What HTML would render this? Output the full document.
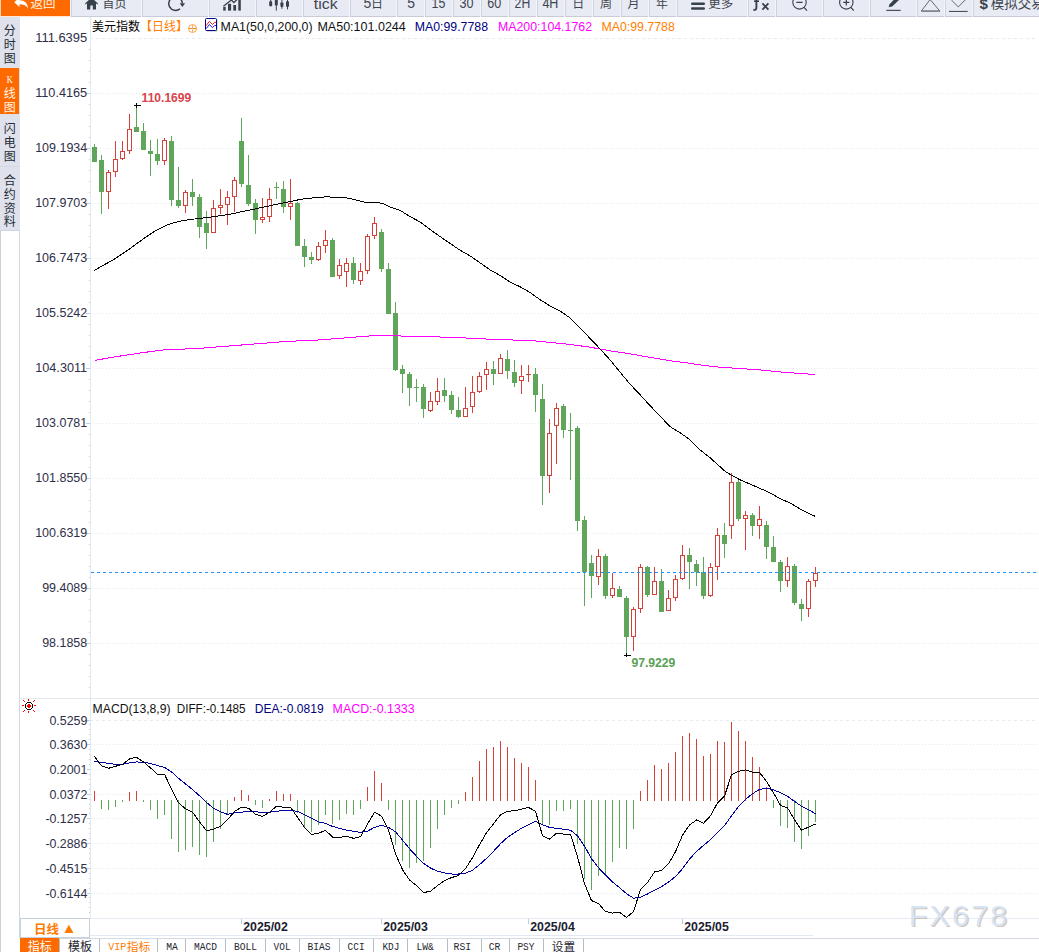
<!DOCTYPE html>
<html><head><meta charset="utf-8"><title>chart</title>
<style>html,body{margin:0;padding:0;background:#fff;}body{width:1039px;height:952px;overflow:hidden;font-family:"Liberation Sans",sans-serif;}svg{display:block}</style>
</head><body>
<svg width="1039" height="952" viewBox="0 0 1039 952">
<rect x="0" y="0" width="1039" height="952" fill="#fff"/>
<rect x="0" y="0" width="1039" height="16" fill="#e9ebf4"/>
<rect x="0" y="16" width="1039" height="1" fill="#c9ccd7"/>
<rect x="0" y="0" width="1" height="16" fill="#ffd4b0"/>
<rect x="1" y="0" width="69" height="16" fill="#ff6a00"/>
<rect x="0" y="16" width="70" height="1" fill="#ffe6d2"/>
<rect x="70" y="0" width="1" height="17" fill="#f3f5f9"/>
<rect x="71" y="0" width="1" height="16" fill="#cfd3de"/>
<rect x="141" y="0" width="1" height="17" fill="#f3f5f9"/>
<rect x="142" y="0" width="1" height="16" fill="#cfd3de"/>
<rect x="208" y="0" width="1" height="17" fill="#f3f5f9"/>
<rect x="209" y="0" width="1" height="16" fill="#cfd3de"/>
<rect x="255" y="0" width="1" height="17" fill="#f3f5f9"/>
<rect x="256" y="0" width="1" height="16" fill="#cfd3de"/>
<rect x="302" y="0" width="1" height="17" fill="#f3f5f9"/>
<rect x="303" y="0" width="1" height="16" fill="#cfd3de"/>
<rect x="349" y="0" width="1" height="17" fill="#f3f5f9"/>
<rect x="350" y="0" width="1" height="16" fill="#cfd3de"/>
<rect x="396" y="0" width="1" height="17" fill="#f3f5f9"/>
<rect x="397" y="0" width="1" height="16" fill="#cfd3de"/>
<rect x="424" y="0" width="1" height="17" fill="#f3f5f9"/>
<rect x="425" y="0" width="1" height="16" fill="#cfd3de"/>
<rect x="452" y="0" width="1" height="17" fill="#f3f5f9"/>
<rect x="453" y="0" width="1" height="16" fill="#cfd3de"/>
<rect x="480" y="0" width="1" height="17" fill="#f3f5f9"/>
<rect x="481" y="0" width="1" height="16" fill="#cfd3de"/>
<rect x="508" y="0" width="1" height="17" fill="#f3f5f9"/>
<rect x="509" y="0" width="1" height="16" fill="#cfd3de"/>
<rect x="536" y="0" width="1" height="17" fill="#f3f5f9"/>
<rect x="537" y="0" width="1" height="16" fill="#cfd3de"/>
<rect x="564" y="0" width="1" height="17" fill="#f3f5f9"/>
<rect x="565" y="0" width="1" height="16" fill="#cfd3de"/>
<rect x="592" y="0" width="1" height="17" fill="#f3f5f9"/>
<rect x="593" y="0" width="1" height="16" fill="#cfd3de"/>
<rect x="620" y="0" width="1" height="17" fill="#f3f5f9"/>
<rect x="621" y="0" width="1" height="16" fill="#cfd3de"/>
<rect x="648" y="0" width="1" height="17" fill="#f3f5f9"/>
<rect x="649" y="0" width="1" height="16" fill="#cfd3de"/>
<rect x="676" y="0" width="1" height="17" fill="#f3f5f9"/>
<rect x="677" y="0" width="1" height="16" fill="#cfd3de"/>
<rect x="747" y="0" width="1" height="17" fill="#f3f5f9"/>
<rect x="748" y="0" width="1" height="16" fill="#cfd3de"/>
<rect x="775" y="0" width="1" height="17" fill="#f3f5f9"/>
<rect x="776" y="0" width="1" height="16" fill="#cfd3de"/>
<rect x="822" y="0" width="1" height="17" fill="#f3f5f9"/>
<rect x="823" y="0" width="1" height="16" fill="#cfd3de"/>
<rect x="869" y="0" width="1" height="17" fill="#f3f5f9"/>
<rect x="870" y="0" width="1" height="16" fill="#cfd3de"/>
<rect x="916" y="0" width="1" height="17" fill="#f3f5f9"/>
<rect x="917" y="0" width="1" height="16" fill="#cfd3de"/>
<rect x="944" y="0" width="1" height="17" fill="#f3f5f9"/>
<rect x="945" y="0" width="1" height="16" fill="#cfd3de"/>
<rect x="972" y="0" width="1" height="17" fill="#f3f5f9"/>
<rect x="973" y="0" width="1" height="16" fill="#cfd3de"/>
<path d="M14.2 2.2 L19.5 -2.5 L19.5 0.3 C24.5 0.3 27.8 3 28 8.4 C26.3 5.2 23.6 4.2 19.5 4.2 L19.5 7 Z" fill="#fff"/>
<text x="30.5" y="7.9" font-family="'Liberation Sans', 'Noto Sans CJK SC', sans-serif" font-size="12.5" fill="#fff3e0">返回</text>
<path d="M85 3.6 L91.5 -2.4 L98 3.6 L97.3 4.4 L96 3.2 L96 9.6 L92.8 9.6 L92.8 5.4 L90.3 5.4 L90.3 9.6 L87 9.6 L87 3.2 L85.7 4.4 Z" fill="#37414b"/>
<text x="102.5" y="7.8" font-family="'Liberation Sans', 'Noto Sans CJK SC', sans-serif" font-size="12" fill="#3d454f">首页</text>
<path d="M180 8.7 A6.75 6.75 0 1 1 182.3 3.3" fill="none" stroke="#37414b" stroke-width="1.5"/>
<path d="M179.7 3.2 L185.1 3.2 L182.4 7 Z" fill="#37414b"/>
<rect x="223.2" y="6.9" width="2.5" height="3.6999999999999993" fill="#37414b"/>
<rect x="228" y="3.8" width="3.1" height="6.8" fill="#37414b"/>
<rect x="233.3" y="5" width="2.8" height="5.6" fill="#37414b"/>
<rect x="238.3" y="0" width="2.5" height="10.6" fill="#37414b"/>
<path d="M223.4 6.2 L231.4 0 L233.9 2.5 L237.6 -1" fill="none" stroke="#37414b" stroke-width="1.3"/>
<rect x="269.2" y="1.2" width="3" height="5.0" rx="0.8" fill="#37414b"/>
<rect x="270.2" y="-1" width="1" height="7.2" fill="#37414b"/>
<rect x="274.8" y="-1" width="3" height="6.6" rx="0.8" fill="#37414b"/>
<rect x="275.8" y="-1" width="1" height="11.6" fill="#37414b"/>
<rect x="280.4" y="2.5" width="3" height="4.4" rx="0.8" fill="#37414b"/>
<rect x="281.4" y="-1" width="1" height="9.8" fill="#37414b"/>
<rect x="286.0" y="1.2" width="3" height="5.7" rx="0.8" fill="#37414b"/>
<rect x="287.0" y="-1" width="1" height="10.4" fill="#37414b"/>
<text x="313.8" y="8.7" font-family="'Liberation Sans', sans-serif" font-size="14" fill="#3d454f" textLength="23.8" lengthAdjust="spacingAndGlyphs">tick</text>
<text x="363.6" y="7.8" font-family="'Liberation Sans', sans-serif" font-size="14" fill="#3d454f">5</text>
<text x="371" y="7.8" font-family="'Liberation Sans', 'Noto Sans CJK SC', sans-serif" font-size="12" fill="#3d454f">日</text>
<text x="407.3" y="7.8" font-family="'Liberation Sans', sans-serif" font-size="14" fill="#3d454f">5</text>
<text x="431.6" y="7.8" font-family="'Liberation Sans', sans-serif" font-size="14" fill="#3d454f" textLength="13.8" lengthAdjust="spacingAndGlyphs">15</text>
<text x="459.6" y="7.8" font-family="'Liberation Sans', sans-serif" font-size="14" fill="#3d454f" textLength="14" lengthAdjust="spacingAndGlyphs">30</text>
<text x="487.2" y="7.8" font-family="'Liberation Sans', sans-serif" font-size="14" fill="#3d454f" textLength="14" lengthAdjust="spacingAndGlyphs">60</text>
<text x="514.6" y="7.8" font-family="'Liberation Sans', sans-serif" font-size="14" fill="#3d454f" textLength="15.6" lengthAdjust="spacingAndGlyphs">2H</text>
<text x="542.4" y="7.8" font-family="'Liberation Sans', sans-serif" font-size="14" fill="#3d454f" textLength="16" lengthAdjust="spacingAndGlyphs">4H</text>
<text x="572.3" y="7.8" font-family="'Liberation Sans', 'Noto Sans CJK SC', sans-serif" font-size="12" fill="#3d454f">日</text>
<text x="600" y="7.8" font-family="'Liberation Sans', 'Noto Sans CJK SC', sans-serif" font-size="12" fill="#3d454f">周</text>
<text x="627.5" y="7.8" font-family="'Liberation Sans', 'Noto Sans CJK SC', sans-serif" font-size="12" fill="#3d454f">月</text>
<text x="656" y="7.8" font-family="'Liberation Sans', 'Noto Sans CJK SC', sans-serif" font-size="12" fill="#3d454f">年</text>
<rect x="691" y="2.5" width="14" height="2.4" rx="1.2" fill="#37414b"/><rect x="691" y="7.3" width="14" height="2.4" rx="1.2" fill="#37414b"/>
<text x="708.3" y="7.9" font-family="'Liberation Sans', 'Noto Sans CJK SC', sans-serif" font-size="12.5" fill="#3d454f">更多</text>
<path d="M753.4 9.8 C755.6 10.2 756.4 9.2 756.4 7.4 L756.4 -2" fill="none" stroke="#37414b" stroke-width="1.9"/>
<rect x="754" y="0.4" width="5" height="1.6" fill="#37414b"/>
<path d="M762.4 3.4 L768.4 9.6 M768.4 3.4 L762.4 9.6" fill="none" stroke="#37414b" stroke-width="1.8"/>
<circle cx="799.5" cy="2.4" r="6.7" fill="none" stroke="#37414b" stroke-width="1.1"/><path d="M796.4 2.3 L802.6 2.3 M804 7.4 L807 10.6" stroke="#37414b" stroke-width="1.2" fill="none"/>
<circle cx="846.3" cy="2.4" r="6.7" fill="none" stroke="#37414b" stroke-width="1.1"/><path d="M843.2 2.3 L849.4 2.3 M846.3 -1 L846.3 5.4 M850.8 7.4 L853.8 10.6" stroke="#37414b" stroke-width="1.2" fill="none"/>
<path d="M888.6 7.2 L889.6 4.2 L895.5 -2 L899 0 L892.2 6.4 Z" fill="#37414b"/>
<rect x="886.3" y="9.8" width="14.4" height="1.1" fill="#37414b"/>
<path d="M921.4 11 L930.1 -0.5 L939.8 11 Z" fill="none" stroke="#555b63" stroke-width="0.9"/>
<rect x="921.2" y="10.6" width="18.8" height="1.2" fill="#7a7f88"/>
<path d="M951.4 0 L958.3 6.9 L965.2 0" fill="none" stroke="#555b63" stroke-width="0.9"/>
<rect x="949" y="10.9" width="18.7" height="1.1" fill="#4a5058"/>
<text x="979.4" y="9.3" font-family="'Liberation Sans', sans-serif" font-size="15" fill="#37414b" font-weight="bold">$</text>
<text x="990.8" y="8" font-family="'Liberation Sans', 'Noto Sans CJK SC', sans-serif" font-size="13.5" fill="#3d454f">模拟交易</text>
<rect x="0" y="17" width="20" height="213" fill="#dfe2ec"/>
<rect x="0" y="68" width="19" height="46" fill="#ff6a00"/>
<rect x="0" y="166" width="20" height="1" fill="#d3d8e2"/>
<text x="3.7" y="34.5" font-family="'Liberation Sans', 'Noto Sans CJK SC', sans-serif" font-size="12" fill="#232c36">分</text>
<text x="3.7" y="48.5" font-family="'Liberation Sans', 'Noto Sans CJK SC', sans-serif" font-size="12" fill="#232c36">时</text>
<text x="3.7" y="63" font-family="'Liberation Sans', 'Noto Sans CJK SC', sans-serif" font-size="12" fill="#232c36">图</text>
<text x="6.8" y="82.8" font-family="'Liberation Serif', sans-serif" font-size="11" fill="#fff" textLength="6" lengthAdjust="spacingAndGlyphs">K</text>
<text x="3.7" y="97.5" font-family="'Liberation Sans', 'Noto Sans CJK SC', sans-serif" font-size="12" fill="#fff5e8">线</text>
<text x="3.7" y="111.8" font-family="'Liberation Sans', 'Noto Sans CJK SC', sans-serif" font-size="12" fill="#fff5e8">图</text>
<text x="3.7" y="132.7" font-family="'Liberation Sans', 'Noto Sans CJK SC', sans-serif" font-size="12" fill="#232c36">闪</text>
<text x="3.7" y="146.8" font-family="'Liberation Sans', 'Noto Sans CJK SC', sans-serif" font-size="12" fill="#232c36">电</text>
<text x="3.7" y="161.2" font-family="'Liberation Sans', 'Noto Sans CJK SC', sans-serif" font-size="12" fill="#232c36">图</text>
<text x="3.7" y="184.7" font-family="'Liberation Sans', 'Noto Sans CJK SC', sans-serif" font-size="12" fill="#232c36">合</text>
<text x="3.7" y="198.7" font-family="'Liberation Sans', 'Noto Sans CJK SC', sans-serif" font-size="12" fill="#232c36">约</text>
<text x="3.7" y="212.6" font-family="'Liberation Sans', 'Noto Sans CJK SC', sans-serif" font-size="12" fill="#232c36">资</text>
<text x="3.7" y="226.4" font-family="'Liberation Sans', 'Noto Sans CJK SC', sans-serif" font-size="12" fill="#232c36">料</text>
<rect x="0" y="230" width="1" height="722" fill="#c8d1dc"/>
<rect x="19" y="230" width="1" height="708" fill="#cfd7e1"/>
<rect x="0" y="230" width="20" height="1" fill="#cdd5df"/>
<rect x="90" y="17" width="1" height="902" fill="#e3e9f0"/>
<path d="M90 38.5 H1037" stroke="#e4ebf2" stroke-width="1" stroke-dasharray="3 3" fill="none"/>
<path d="M91 93.5 H1037" stroke="#e3eaf0" stroke-width="1" stroke-dasharray="1 2" fill="none"/>
<path d="M91 148.5 H1037" stroke="#e3eaf0" stroke-width="1" stroke-dasharray="1 2" fill="none"/>
<path d="M91 203.5 H1037" stroke="#e3eaf0" stroke-width="1" stroke-dasharray="1 2" fill="none"/>
<path d="M91 258.5 H1037" stroke="#e3eaf0" stroke-width="1" stroke-dasharray="1 2" fill="none"/>
<path d="M91 313.5 H1037" stroke="#e3eaf0" stroke-width="1" stroke-dasharray="1 2" fill="none"/>
<path d="M91 368.5 H1037" stroke="#e3eaf0" stroke-width="1" stroke-dasharray="1 2" fill="none"/>
<path d="M91 423.5 H1037" stroke="#e3eaf0" stroke-width="1" stroke-dasharray="1 2" fill="none"/>
<path d="M91 478.5 H1037" stroke="#e3eaf0" stroke-width="1" stroke-dasharray="1 2" fill="none"/>
<path d="M91 533.5 H1037" stroke="#e3eaf0" stroke-width="1" stroke-dasharray="1 2" fill="none"/>
<path d="M91 588.5 H1037" stroke="#e3eaf0" stroke-width="1" stroke-dasharray="1 2" fill="none"/>
<path d="M91 643.5 H1037" stroke="#e3eaf0" stroke-width="1" stroke-dasharray="1 2" fill="none"/>
<rect x="89" y="49" width="1" height="1" fill="#c3ccd8"/>
<rect x="89" y="60" width="1" height="1" fill="#c3ccd8"/>
<rect x="89" y="71" width="1" height="1" fill="#c3ccd8"/>
<rect x="89" y="82" width="1" height="1" fill="#c3ccd8"/>
<rect x="86" y="93" width="4" height="1" fill="#c3ccd8"/>
<rect x="89" y="104" width="1" height="1" fill="#c3ccd8"/>
<rect x="89" y="115" width="1" height="1" fill="#c3ccd8"/>
<rect x="89" y="126" width="1" height="1" fill="#c3ccd8"/>
<rect x="89" y="137" width="1" height="1" fill="#c3ccd8"/>
<rect x="86" y="148" width="4" height="1" fill="#c3ccd8"/>
<rect x="89" y="159" width="1" height="1" fill="#c3ccd8"/>
<rect x="89" y="170" width="1" height="1" fill="#c3ccd8"/>
<rect x="89" y="181" width="1" height="1" fill="#c3ccd8"/>
<rect x="89" y="192" width="1" height="1" fill="#c3ccd8"/>
<rect x="86" y="203" width="4" height="1" fill="#c3ccd8"/>
<rect x="89" y="214" width="1" height="1" fill="#c3ccd8"/>
<rect x="89" y="225" width="1" height="1" fill="#c3ccd8"/>
<rect x="89" y="236" width="1" height="1" fill="#c3ccd8"/>
<rect x="89" y="247" width="1" height="1" fill="#c3ccd8"/>
<rect x="86" y="258" width="4" height="1" fill="#c3ccd8"/>
<rect x="89" y="269" width="1" height="1" fill="#c3ccd8"/>
<rect x="89" y="280" width="1" height="1" fill="#c3ccd8"/>
<rect x="89" y="291" width="1" height="1" fill="#c3ccd8"/>
<rect x="89" y="302" width="1" height="1" fill="#c3ccd8"/>
<rect x="86" y="313" width="4" height="1" fill="#c3ccd8"/>
<rect x="89" y="324" width="1" height="1" fill="#c3ccd8"/>
<rect x="89" y="335" width="1" height="1" fill="#c3ccd8"/>
<rect x="89" y="346" width="1" height="1" fill="#c3ccd8"/>
<rect x="89" y="357" width="1" height="1" fill="#c3ccd8"/>
<rect x="86" y="368" width="4" height="1" fill="#c3ccd8"/>
<rect x="89" y="379" width="1" height="1" fill="#c3ccd8"/>
<rect x="89" y="390" width="1" height="1" fill="#c3ccd8"/>
<rect x="89" y="401" width="1" height="1" fill="#c3ccd8"/>
<rect x="89" y="412" width="1" height="1" fill="#c3ccd8"/>
<rect x="86" y="423" width="4" height="1" fill="#c3ccd8"/>
<rect x="89" y="434" width="1" height="1" fill="#c3ccd8"/>
<rect x="89" y="445" width="1" height="1" fill="#c3ccd8"/>
<rect x="89" y="456" width="1" height="1" fill="#c3ccd8"/>
<rect x="89" y="467" width="1" height="1" fill="#c3ccd8"/>
<rect x="86" y="478" width="4" height="1" fill="#c3ccd8"/>
<rect x="89" y="489" width="1" height="1" fill="#c3ccd8"/>
<rect x="89" y="500" width="1" height="1" fill="#c3ccd8"/>
<rect x="89" y="511" width="1" height="1" fill="#c3ccd8"/>
<rect x="89" y="522" width="1" height="1" fill="#c3ccd8"/>
<rect x="86" y="533" width="4" height="1" fill="#c3ccd8"/>
<rect x="89" y="544" width="1" height="1" fill="#c3ccd8"/>
<rect x="89" y="555" width="1" height="1" fill="#c3ccd8"/>
<rect x="89" y="566" width="1" height="1" fill="#c3ccd8"/>
<rect x="89" y="577" width="1" height="1" fill="#c3ccd8"/>
<rect x="86" y="588" width="4" height="1" fill="#c3ccd8"/>
<rect x="89" y="599" width="1" height="1" fill="#c3ccd8"/>
<rect x="89" y="610" width="1" height="1" fill="#c3ccd8"/>
<rect x="89" y="621" width="1" height="1" fill="#c3ccd8"/>
<rect x="89" y="632" width="1" height="1" fill="#c3ccd8"/>
<rect x="86" y="643" width="4" height="1" fill="#c3ccd8"/>
<rect x="89" y="654" width="1" height="1" fill="#c3ccd8"/>
<rect x="89" y="665" width="1" height="1" fill="#c3ccd8"/>
<rect x="89" y="676" width="1" height="1" fill="#c3ccd8"/>
<rect x="89" y="687" width="1" height="1" fill="#c3ccd8"/>
<text x="35.2" y="42.3" font-family="'Liberation Sans', sans-serif" font-size="12" fill="#2e2e48" textLength="52" lengthAdjust="spacingAndGlyphs">111.6395</text>
<text x="35.2" y="97.3" font-family="'Liberation Sans', sans-serif" font-size="12" fill="#2e2e48" textLength="52" lengthAdjust="spacingAndGlyphs">110.4165</text>
<text x="35.2" y="152.3" font-family="'Liberation Sans', sans-serif" font-size="12" fill="#2e2e48" textLength="52" lengthAdjust="spacingAndGlyphs">109.1934</text>
<text x="35.2" y="207.3" font-family="'Liberation Sans', sans-serif" font-size="12" fill="#2e2e48" textLength="52" lengthAdjust="spacingAndGlyphs">107.9703</text>
<text x="35.2" y="262.3" font-family="'Liberation Sans', sans-serif" font-size="12" fill="#2e2e48" textLength="52" lengthAdjust="spacingAndGlyphs">106.7473</text>
<text x="35.2" y="317.3" font-family="'Liberation Sans', sans-serif" font-size="12" fill="#2e2e48" textLength="52" lengthAdjust="spacingAndGlyphs">105.5242</text>
<text x="35.2" y="372.3" font-family="'Liberation Sans', sans-serif" font-size="12" fill="#2e2e48" textLength="52" lengthAdjust="spacingAndGlyphs">104.3011</text>
<text x="35.2" y="427.3" font-family="'Liberation Sans', sans-serif" font-size="12" fill="#2e2e48" textLength="52" lengthAdjust="spacingAndGlyphs">103.0781</text>
<text x="35.2" y="482.3" font-family="'Liberation Sans', sans-serif" font-size="12" fill="#2e2e48" textLength="52" lengthAdjust="spacingAndGlyphs">101.8550</text>
<text x="35.2" y="537.3" font-family="'Liberation Sans', sans-serif" font-size="12" fill="#2e2e48" textLength="52" lengthAdjust="spacingAndGlyphs">100.6319</text>
<text x="42.2" y="592.3" font-family="'Liberation Sans', sans-serif" font-size="12" fill="#2e2e48" textLength="45" lengthAdjust="spacingAndGlyphs">99.4089</text>
<text x="42.2" y="647.3" font-family="'Liberation Sans', sans-serif" font-size="12" fill="#2e2e48" textLength="45" lengthAdjust="spacingAndGlyphs">98.1858</text>
<rect x="20" y="698" width="1019" height="1" fill="#e4e9f0"/>
<path d="M90 720.5 H1037" stroke="#e4ebf2" stroke-width="1" stroke-dasharray="3 3" fill="none"/>
<path d="M91 744.5 H1037" stroke="#e3eaf0" stroke-width="1" stroke-dasharray="1 2" fill="none"/>
<path d="M91 769.5 H1037" stroke="#e3eaf0" stroke-width="1" stroke-dasharray="1 2" fill="none"/>
<path d="M91 794.5 H1037" stroke="#e3eaf0" stroke-width="1" stroke-dasharray="1 2" fill="none"/>
<path d="M91 818.5 H1037" stroke="#e3eaf0" stroke-width="1" stroke-dasharray="1 2" fill="none"/>
<path d="M91 843.5 H1037" stroke="#e3eaf0" stroke-width="1" stroke-dasharray="1 2" fill="none"/>
<path d="M91 868.5 H1037" stroke="#e3eaf0" stroke-width="1" stroke-dasharray="1 2" fill="none"/>
<path d="M91 893.5 H1037" stroke="#e3eaf0" stroke-width="1" stroke-dasharray="1 2" fill="none"/>
<rect x="87" y="720" width="3" height="1" fill="#c3ccd8"/>
<rect x="89" y="724" width="1" height="1" fill="#c3ccd8"/>
<rect x="89" y="729" width="1" height="1" fill="#c3ccd8"/>
<rect x="89" y="734" width="1" height="1" fill="#c3ccd8"/>
<rect x="89" y="739" width="1" height="1" fill="#c3ccd8"/>
<rect x="87" y="744" width="3" height="1" fill="#c3ccd8"/>
<rect x="89" y="749" width="1" height="1" fill="#c3ccd8"/>
<rect x="89" y="754" width="1" height="1" fill="#c3ccd8"/>
<rect x="89" y="759" width="1" height="1" fill="#c3ccd8"/>
<rect x="89" y="764" width="1" height="1" fill="#c3ccd8"/>
<rect x="87" y="769" width="3" height="1" fill="#c3ccd8"/>
<rect x="89" y="774" width="1" height="1" fill="#c3ccd8"/>
<rect x="89" y="779" width="1" height="1" fill="#c3ccd8"/>
<rect x="89" y="784" width="1" height="1" fill="#c3ccd8"/>
<rect x="89" y="789" width="1" height="1" fill="#c3ccd8"/>
<rect x="87" y="794" width="3" height="1" fill="#c3ccd8"/>
<rect x="89" y="799" width="1" height="1" fill="#c3ccd8"/>
<rect x="89" y="804" width="1" height="1" fill="#c3ccd8"/>
<rect x="89" y="808" width="1" height="1" fill="#c3ccd8"/>
<rect x="89" y="813" width="1" height="1" fill="#c3ccd8"/>
<rect x="87" y="818" width="3" height="1" fill="#c3ccd8"/>
<rect x="89" y="823" width="1" height="1" fill="#c3ccd8"/>
<rect x="89" y="828" width="1" height="1" fill="#c3ccd8"/>
<rect x="89" y="833" width="1" height="1" fill="#c3ccd8"/>
<rect x="89" y="838" width="1" height="1" fill="#c3ccd8"/>
<rect x="87" y="843" width="3" height="1" fill="#c3ccd8"/>
<rect x="89" y="848" width="1" height="1" fill="#c3ccd8"/>
<rect x="89" y="853" width="1" height="1" fill="#c3ccd8"/>
<rect x="89" y="858" width="1" height="1" fill="#c3ccd8"/>
<rect x="89" y="863" width="1" height="1" fill="#c3ccd8"/>
<rect x="87" y="868" width="3" height="1" fill="#c3ccd8"/>
<rect x="89" y="873" width="1" height="1" fill="#c3ccd8"/>
<rect x="89" y="878" width="1" height="1" fill="#c3ccd8"/>
<rect x="89" y="883" width="1" height="1" fill="#c3ccd8"/>
<rect x="89" y="888" width="1" height="1" fill="#c3ccd8"/>
<rect x="87" y="893" width="3" height="1" fill="#c3ccd8"/>
<rect x="89" y="897" width="1" height="1" fill="#c3ccd8"/>
<rect x="89" y="902" width="1" height="1" fill="#c3ccd8"/>
<rect x="89" y="907" width="1" height="1" fill="#c3ccd8"/>
<rect x="89" y="912" width="1" height="1" fill="#c3ccd8"/>
<text x="49.400000000000006" y="724.6" font-family="'Liberation Sans', sans-serif" font-size="12" fill="#2e2e48" textLength="38" lengthAdjust="spacingAndGlyphs">0.5259</text>
<text x="49.400000000000006" y="748.6" font-family="'Liberation Sans', sans-serif" font-size="12" fill="#2e2e48" textLength="38" lengthAdjust="spacingAndGlyphs">0.3630</text>
<text x="49.400000000000006" y="773.6" font-family="'Liberation Sans', sans-serif" font-size="12" fill="#2e2e48" textLength="38" lengthAdjust="spacingAndGlyphs">0.2001</text>
<text x="49.400000000000006" y="798.6" font-family="'Liberation Sans', sans-serif" font-size="12" fill="#2e2e48" textLength="38" lengthAdjust="spacingAndGlyphs">0.0372</text>
<text x="45.400000000000006" y="822.6" font-family="'Liberation Sans', sans-serif" font-size="12" fill="#2e2e48" textLength="42" lengthAdjust="spacingAndGlyphs">-0.1257</text>
<text x="45.400000000000006" y="847.6" font-family="'Liberation Sans', sans-serif" font-size="12" fill="#2e2e48" textLength="42" lengthAdjust="spacingAndGlyphs">-0.2886</text>
<text x="45.400000000000006" y="872.6" font-family="'Liberation Sans', sans-serif" font-size="12" fill="#2e2e48" textLength="42" lengthAdjust="spacingAndGlyphs">-0.4515</text>
<text x="45.400000000000006" y="897.6" font-family="'Liberation Sans', sans-serif" font-size="12" fill="#2e2e48" textLength="42" lengthAdjust="spacingAndGlyphs">-0.6144</text>
<text x="92" y="31" font-family="'Liberation Sans', 'Noto Sans CJK SC', sans-serif" font-size="12" fill="#000">美元指数</text>
<text x="140" y="31" font-family="'Liberation Sans', 'Noto Sans CJK SC', sans-serif" font-size="12" fill="#ff7f00">【日线】</text>
<circle cx="192.5" cy="28.5" r="4" fill="none" stroke="#ff9a33" stroke-width="0.9"/><path d="M188.5 28.5 H196.5" stroke="#ff8c1a" stroke-width="1" fill="none"/><path d="M192.5 24.5 V32.5" stroke="#ffb060" stroke-width="1" fill="none"/>
<rect x="206" y="19" width="11.5" height="12.5" rx="1" fill="#b8b8b8"/>
<rect x="205.5" y="18.5" width="11" height="12" rx="1" fill="#fff" stroke="#00008b" stroke-width="1"/>
<path d="M206.2 25.6 L209.4 21.4 L212.5 24.5 L214.6 22.4 L216 22.4" fill="none" stroke="#ff0000" stroke-width="0.9"/>
<path d="M206.2 28.7 L209.4 24.5 L212.5 27.6 L214.6 25.5 L216 25.5" fill="none" stroke="#0000ff" stroke-width="0.9"/>
<text x="220.6" y="31" font-family="'Liberation Sans', sans-serif" font-size="12.2" fill="#111" textLength="92" lengthAdjust="spacingAndGlyphs">MA1(50,0,200,0)</text>
<text x="317.4" y="31" font-family="'Liberation Sans', sans-serif" font-size="12.2" fill="#111" textLength="88.4" lengthAdjust="spacingAndGlyphs">MA50:101.0244</text>
<text x="414.8" y="31" font-family="'Liberation Sans', sans-serif" font-size="12.2" fill="#000080" textLength="73.2" lengthAdjust="spacingAndGlyphs">MA0:99.7788</text>
<text x="498" y="31" font-family="'Liberation Sans', sans-serif" font-size="12.2" fill="#ff00ff" textLength="94" lengthAdjust="spacingAndGlyphs">MA200:104.1762</text>
<text x="601.4" y="31" font-family="'Liberation Sans', sans-serif" font-size="12.2" fill="#ff8000" textLength="73.4" lengthAdjust="spacingAndGlyphs">MA0:99.7788</text>
<g shape-rendering="crispEdges">
<rect x="94" y="144" width="1" height="18" fill="#5fa55a"/>
<rect x="92" y="147" width="5" height="15" fill="#5fa55a"/>
<rect x="101" y="155" width="1" height="59" fill="#5fa55a"/>
<rect x="99" y="160" width="5" height="32" fill="#5fa55a"/>
<rect x="108" y="170" width="1" height="2" fill="#d4413b"/>
<rect x="108" y="192" width="1" height="17" fill="#d4413b"/>
<rect x="106.5" y="172.5" width="4" height="19" fill="#fff" stroke="#d4413b" stroke-width="1"/>
<rect x="115" y="141" width="1" height="18" fill="#d4413b"/>
<rect x="115" y="172" width="1" height="5" fill="#d4413b"/>
<rect x="113.5" y="159.5" width="4" height="12" fill="#fff" stroke="#d4413b" stroke-width="1"/>
<rect x="122" y="141" width="1" height="10" fill="#d4413b"/>
<rect x="122" y="159" width="1" height="1" fill="#d4413b"/>
<rect x="120.5" y="151.5" width="4" height="7" fill="#fff" stroke="#d4413b" stroke-width="1"/>
<rect x="129" y="114" width="1" height="15" fill="#d4413b"/>
<rect x="129" y="151" width="1" height="3" fill="#d4413b"/>
<rect x="127.5" y="129.5" width="4" height="21" fill="#fff" stroke="#d4413b" stroke-width="1"/>
<rect x="136" y="107" width="1" height="25" fill="#5fa55a"/>
<rect x="134" y="127" width="5" height="5" fill="#5fa55a"/>
<rect x="143" y="123" width="1" height="27" fill="#5fa55a"/>
<rect x="141" y="131" width="5" height="19" fill="#5fa55a"/>
<rect x="150" y="140" width="1" height="36" fill="#5fa55a"/>
<rect x="148" y="151" width="5" height="3" fill="#5fa55a"/>
<rect x="157" y="139" width="1" height="26" fill="#5fa55a"/>
<rect x="155" y="154" width="5" height="7" fill="#5fa55a"/>
<rect x="164" y="138" width="1" height="2" fill="#d4413b"/>
<rect x="164" y="161" width="1" height="4" fill="#d4413b"/>
<rect x="162.5" y="140.5" width="4" height="20" fill="#fff" stroke="#d4413b" stroke-width="1"/>
<rect x="171" y="136" width="1" height="70" fill="#5fa55a"/>
<rect x="169" y="141" width="5" height="59" fill="#5fa55a"/>
<rect x="178" y="167" width="1" height="41" fill="#5fa55a"/>
<rect x="176" y="200" width="5" height="6" fill="#5fa55a"/>
<rect x="185" y="190" width="1" height="2" fill="#d4413b"/>
<rect x="185" y="206" width="1" height="7" fill="#d4413b"/>
<rect x="183.5" y="192.5" width="4" height="13" fill="#fff" stroke="#d4413b" stroke-width="1"/>
<rect x="192" y="179" width="1" height="27" fill="#5fa55a"/>
<rect x="190" y="192" width="5" height="5" fill="#5fa55a"/>
<rect x="199" y="194" width="1" height="44" fill="#5fa55a"/>
<rect x="197" y="197" width="5" height="30" fill="#5fa55a"/>
<rect x="206" y="211" width="1" height="38" fill="#5fa55a"/>
<rect x="204" y="223" width="5" height="10" fill="#5fa55a"/>
<rect x="213" y="200" width="1" height="8" fill="#d4413b"/>
<rect x="211.5" y="208.5" width="4" height="24" fill="#fff" stroke="#d4413b" stroke-width="1"/>
<rect x="220" y="189" width="1" height="16" fill="#d4413b"/>
<rect x="220" y="208" width="1" height="6" fill="#d4413b"/>
<rect x="218.5" y="205.5" width="4" height="2" fill="#fff" stroke="#d4413b" stroke-width="1"/>
<rect x="227" y="191" width="1" height="6" fill="#d4413b"/>
<rect x="227" y="205" width="1" height="20" fill="#d4413b"/>
<rect x="225.5" y="197.5" width="4" height="7" fill="#fff" stroke="#d4413b" stroke-width="1"/>
<rect x="234" y="177" width="1" height="3" fill="#d4413b"/>
<rect x="234" y="197" width="1" height="15" fill="#d4413b"/>
<rect x="232.5" y="180.5" width="4" height="16" fill="#fff" stroke="#d4413b" stroke-width="1"/>
<rect x="241" y="118" width="1" height="69" fill="#5fa55a"/>
<rect x="239" y="141" width="5" height="43" fill="#5fa55a"/>
<rect x="248" y="155" width="1" height="51" fill="#5fa55a"/>
<rect x="246" y="185" width="5" height="19" fill="#5fa55a"/>
<rect x="255" y="199" width="1" height="35" fill="#5fa55a"/>
<rect x="253" y="203" width="5" height="17" fill="#5fa55a"/>
<rect x="262" y="198" width="1" height="19" fill="#d4413b"/>
<rect x="262" y="220" width="1" height="3" fill="#d4413b"/>
<rect x="260.5" y="217.5" width="4" height="2" fill="#fff" stroke="#d4413b" stroke-width="1"/>
<rect x="269" y="188" width="1" height="11" fill="#d4413b"/>
<rect x="269" y="217" width="1" height="5" fill="#d4413b"/>
<rect x="267.5" y="199.5" width="4" height="17" fill="#fff" stroke="#d4413b" stroke-width="1"/>
<rect x="276" y="182" width="1" height="17" fill="#5fa55a"/>
<rect x="274" y="187" width="5" height="1" fill="#5fa55a"/>
<rect x="283" y="181" width="1" height="32" fill="#5fa55a"/>
<rect x="281" y="189" width="5" height="18" fill="#5fa55a"/>
<rect x="290" y="179" width="1" height="24" fill="#d4413b"/>
<rect x="290" y="207" width="1" height="13" fill="#d4413b"/>
<rect x="288.5" y="203.5" width="4" height="3" fill="#fff" stroke="#d4413b" stroke-width="1"/>
<rect x="297" y="202" width="1" height="44" fill="#5fa55a"/>
<rect x="295" y="203" width="5" height="43" fill="#5fa55a"/>
<rect x="304" y="239" width="1" height="28" fill="#5fa55a"/>
<rect x="302" y="246" width="5" height="11" fill="#5fa55a"/>
<rect x="311" y="252" width="1" height="12" fill="#5fa55a"/>
<rect x="309" y="257" width="5" height="3" fill="#5fa55a"/>
<rect x="318" y="242" width="1" height="4" fill="#d4413b"/>
<rect x="318" y="260" width="1" height="1" fill="#d4413b"/>
<rect x="316.5" y="246.5" width="4" height="13" fill="#fff" stroke="#d4413b" stroke-width="1"/>
<rect x="325" y="230" width="1" height="10" fill="#d4413b"/>
<rect x="325" y="246" width="1" height="7" fill="#d4413b"/>
<rect x="323.5" y="240.5" width="4" height="5" fill="#fff" stroke="#d4413b" stroke-width="1"/>
<rect x="332" y="238" width="1" height="39" fill="#5fa55a"/>
<rect x="330" y="240" width="5" height="37" fill="#5fa55a"/>
<rect x="339" y="259" width="1" height="6" fill="#d4413b"/>
<rect x="339" y="276" width="1" height="3" fill="#d4413b"/>
<rect x="337.5" y="265.5" width="4" height="10" fill="#fff" stroke="#d4413b" stroke-width="1"/>
<rect x="346" y="258" width="1" height="5" fill="#d4413b"/>
<rect x="346" y="272" width="1" height="15" fill="#d4413b"/>
<rect x="344.5" y="263.5" width="4" height="8" fill="#fff" stroke="#d4413b" stroke-width="1"/>
<rect x="353" y="257" width="1" height="27" fill="#5fa55a"/>
<rect x="351" y="263" width="5" height="17" fill="#5fa55a"/>
<rect x="360" y="263" width="1" height="8" fill="#d4413b"/>
<rect x="360" y="281" width="1" height="4" fill="#d4413b"/>
<rect x="358.5" y="271.5" width="4" height="9" fill="#fff" stroke="#d4413b" stroke-width="1"/>
<rect x="367" y="234" width="1" height="2" fill="#d4413b"/>
<rect x="367" y="271" width="1" height="3" fill="#d4413b"/>
<rect x="365.5" y="236.5" width="4" height="34" fill="#fff" stroke="#d4413b" stroke-width="1"/>
<rect x="374" y="217" width="1" height="6" fill="#d4413b"/>
<rect x="374" y="236" width="1" height="3" fill="#d4413b"/>
<rect x="372.5" y="223.5" width="4" height="12" fill="#fff" stroke="#d4413b" stroke-width="1"/>
<rect x="381" y="229" width="1" height="43" fill="#5fa55a"/>
<rect x="379" y="232" width="5" height="37" fill="#5fa55a"/>
<rect x="388" y="263" width="1" height="51" fill="#5fa55a"/>
<rect x="386" y="269" width="5" height="45" fill="#5fa55a"/>
<rect x="395" y="302" width="1" height="69" fill="#5fa55a"/>
<rect x="393" y="313" width="5" height="57" fill="#5fa55a"/>
<rect x="402" y="365" width="1" height="28" fill="#5fa55a"/>
<rect x="400" y="369" width="5" height="5" fill="#5fa55a"/>
<rect x="409" y="372" width="1" height="34" fill="#5fa55a"/>
<rect x="407" y="374" width="5" height="14" fill="#5fa55a"/>
<rect x="416" y="379" width="1" height="23" fill="#5fa55a"/>
<rect x="414" y="387" width="5" height="1" fill="#5fa55a"/>
<rect x="423" y="384" width="1" height="34" fill="#5fa55a"/>
<rect x="421" y="387" width="5" height="22" fill="#5fa55a"/>
<rect x="430" y="392" width="1" height="9" fill="#d4413b"/>
<rect x="430" y="411" width="1" height="1" fill="#d4413b"/>
<rect x="428.5" y="401.5" width="4" height="9" fill="#fff" stroke="#d4413b" stroke-width="1"/>
<rect x="437" y="378" width="1" height="13" fill="#d4413b"/>
<rect x="437" y="402" width="1" height="3" fill="#d4413b"/>
<rect x="435.5" y="391.5" width="4" height="10" fill="#fff" stroke="#d4413b" stroke-width="1"/>
<rect x="444" y="378" width="1" height="24" fill="#5fa55a"/>
<rect x="442" y="390" width="5" height="6" fill="#5fa55a"/>
<rect x="451" y="391" width="1" height="23" fill="#5fa55a"/>
<rect x="449" y="395" width="5" height="15" fill="#5fa55a"/>
<rect x="458" y="397" width="1" height="21" fill="#5fa55a"/>
<rect x="456" y="410" width="5" height="7" fill="#5fa55a"/>
<rect x="465" y="387" width="1" height="21" fill="#d4413b"/>
<rect x="463.5" y="408.5" width="4" height="8" fill="#fff" stroke="#d4413b" stroke-width="1"/>
<rect x="472" y="376" width="1" height="16" fill="#d4413b"/>
<rect x="472" y="407" width="1" height="6" fill="#d4413b"/>
<rect x="470.5" y="392.5" width="4" height="14" fill="#fff" stroke="#d4413b" stroke-width="1"/>
<rect x="479" y="372" width="1" height="4" fill="#d4413b"/>
<rect x="479" y="392" width="1" height="1" fill="#d4413b"/>
<rect x="477.5" y="376.5" width="4" height="15" fill="#fff" stroke="#d4413b" stroke-width="1"/>
<rect x="486" y="362" width="1" height="7" fill="#d4413b"/>
<rect x="486" y="375" width="1" height="15" fill="#d4413b"/>
<rect x="484.5" y="369.5" width="4" height="5" fill="#fff" stroke="#d4413b" stroke-width="1"/>
<rect x="493" y="361" width="1" height="24" fill="#5fa55a"/>
<rect x="491" y="369" width="5" height="5" fill="#5fa55a"/>
<rect x="500" y="354" width="1" height="4" fill="#d4413b"/>
<rect x="498.5" y="358.5" width="4" height="15" fill="#fff" stroke="#d4413b" stroke-width="1"/>
<rect x="507" y="350" width="1" height="29" fill="#5fa55a"/>
<rect x="505" y="359" width="5" height="12" fill="#5fa55a"/>
<rect x="514" y="360" width="1" height="27" fill="#5fa55a"/>
<rect x="512" y="372" width="5" height="11" fill="#5fa55a"/>
<rect x="521" y="365" width="1" height="11" fill="#d4413b"/>
<rect x="521" y="381" width="1" height="13" fill="#d4413b"/>
<rect x="519.5" y="376.5" width="4" height="4" fill="#fff" stroke="#d4413b" stroke-width="1"/>
<rect x="528" y="365" width="1" height="9" fill="#d4413b"/>
<rect x="528" y="375" width="1" height="7" fill="#d4413b"/>
<rect x="526" y="374" width="5" height="1" fill="#d4413b"/>
<rect x="535" y="368" width="1" height="44" fill="#5fa55a"/>
<rect x="533" y="374" width="5" height="21" fill="#5fa55a"/>
<rect x="542" y="384" width="1" height="121" fill="#5fa55a"/>
<rect x="540" y="399" width="5" height="77" fill="#5fa55a"/>
<rect x="549" y="419" width="1" height="14" fill="#d4413b"/>
<rect x="549" y="476" width="1" height="17" fill="#d4413b"/>
<rect x="547.5" y="433.5" width="4" height="42" fill="#fff" stroke="#d4413b" stroke-width="1"/>
<rect x="556" y="403" width="1" height="5" fill="#d4413b"/>
<rect x="556" y="426" width="1" height="38" fill="#d4413b"/>
<rect x="554.5" y="408.5" width="4" height="17" fill="#fff" stroke="#d4413b" stroke-width="1"/>
<rect x="563" y="404" width="1" height="34" fill="#5fa55a"/>
<rect x="561" y="406" width="5" height="24" fill="#5fa55a"/>
<rect x="570" y="413" width="1" height="67" fill="#5fa55a"/>
<rect x="568" y="430" width="5" height="1" fill="#5fa55a"/>
<rect x="577" y="426" width="1" height="105" fill="#5fa55a"/>
<rect x="575" y="428" width="5" height="93" fill="#5fa55a"/>
<rect x="584" y="516" width="1" height="90" fill="#5fa55a"/>
<rect x="582" y="520" width="5" height="52" fill="#5fa55a"/>
<rect x="591" y="555" width="1" height="43" fill="#5fa55a"/>
<rect x="589" y="563" width="5" height="13" fill="#5fa55a"/>
<rect x="598" y="549" width="1" height="7" fill="#d4413b"/>
<rect x="598" y="577" width="1" height="8" fill="#d4413b"/>
<rect x="596.5" y="556.5" width="4" height="20" fill="#fff" stroke="#d4413b" stroke-width="1"/>
<rect x="605" y="554" width="1" height="45" fill="#5fa55a"/>
<rect x="603" y="556" width="5" height="40" fill="#5fa55a"/>
<rect x="612" y="573" width="1" height="15" fill="#d4413b"/>
<rect x="612" y="596" width="1" height="2" fill="#d4413b"/>
<rect x="610.5" y="588.5" width="4" height="7" fill="#fff" stroke="#d4413b" stroke-width="1"/>
<rect x="619" y="586" width="1" height="11" fill="#5fa55a"/>
<rect x="617" y="589" width="5" height="8" fill="#5fa55a"/>
<rect x="626" y="596" width="1" height="57" fill="#5fa55a"/>
<rect x="624" y="598" width="5" height="39" fill="#5fa55a"/>
<rect x="633" y="607" width="1" height="2" fill="#d4413b"/>
<rect x="633" y="637" width="1" height="14" fill="#d4413b"/>
<rect x="631.5" y="609.5" width="4" height="27" fill="#fff" stroke="#d4413b" stroke-width="1"/>
<rect x="640" y="564" width="1" height="3" fill="#d4413b"/>
<rect x="640" y="609" width="1" height="4" fill="#d4413b"/>
<rect x="638.5" y="567.5" width="4" height="41" fill="#fff" stroke="#d4413b" stroke-width="1"/>
<rect x="647" y="566" width="1" height="31" fill="#5fa55a"/>
<rect x="645" y="567" width="5" height="28" fill="#5fa55a"/>
<rect x="654" y="567" width="1" height="14" fill="#d4413b"/>
<rect x="652.5" y="581.5" width="4" height="13" fill="#fff" stroke="#d4413b" stroke-width="1"/>
<rect x="661" y="569" width="1" height="43" fill="#5fa55a"/>
<rect x="659" y="581" width="5" height="31" fill="#5fa55a"/>
<rect x="668" y="590" width="1" height="8" fill="#d4413b"/>
<rect x="666.5" y="598.5" width="4" height="12" fill="#fff" stroke="#d4413b" stroke-width="1"/>
<rect x="675" y="575" width="1" height="4" fill="#d4413b"/>
<rect x="675" y="598" width="1" height="3" fill="#d4413b"/>
<rect x="673.5" y="579.5" width="4" height="18" fill="#fff" stroke="#d4413b" stroke-width="1"/>
<rect x="682" y="545" width="1" height="10" fill="#d4413b"/>
<rect x="682" y="579" width="1" height="1" fill="#d4413b"/>
<rect x="680.5" y="555.5" width="4" height="23" fill="#fff" stroke="#d4413b" stroke-width="1"/>
<rect x="689" y="548" width="1" height="41" fill="#5fa55a"/>
<rect x="687" y="555" width="5" height="7" fill="#5fa55a"/>
<rect x="696" y="560" width="1" height="26" fill="#5fa55a"/>
<rect x="694" y="564" width="5" height="8" fill="#5fa55a"/>
<rect x="703" y="557" width="1" height="42" fill="#5fa55a"/>
<rect x="701" y="572" width="5" height="24" fill="#5fa55a"/>
<rect x="710" y="563" width="1" height="4" fill="#d4413b"/>
<rect x="710" y="596" width="1" height="1" fill="#d4413b"/>
<rect x="708.5" y="567.5" width="4" height="28" fill="#fff" stroke="#d4413b" stroke-width="1"/>
<rect x="717" y="528" width="1" height="7" fill="#d4413b"/>
<rect x="717" y="567" width="1" height="13" fill="#d4413b"/>
<rect x="715.5" y="535.5" width="4" height="31" fill="#fff" stroke="#d4413b" stroke-width="1"/>
<rect x="724" y="523" width="1" height="35" fill="#5fa55a"/>
<rect x="722" y="535" width="5" height="9" fill="#5fa55a"/>
<rect x="731" y="473" width="1" height="9" fill="#d4413b"/>
<rect x="731" y="526" width="1" height="13" fill="#d4413b"/>
<rect x="729.5" y="482.5" width="4" height="43" fill="#fff" stroke="#d4413b" stroke-width="1"/>
<rect x="738" y="479" width="1" height="42" fill="#5fa55a"/>
<rect x="736" y="482" width="5" height="37" fill="#5fa55a"/>
<rect x="745" y="511" width="1" height="4" fill="#d4413b"/>
<rect x="745" y="519" width="1" height="31" fill="#d4413b"/>
<rect x="743.5" y="515.5" width="4" height="3" fill="#fff" stroke="#d4413b" stroke-width="1"/>
<rect x="752" y="513" width="1" height="23" fill="#5fa55a"/>
<rect x="750" y="515" width="5" height="11" fill="#5fa55a"/>
<rect x="759" y="506" width="1" height="13" fill="#d4413b"/>
<rect x="759" y="526" width="1" height="13" fill="#d4413b"/>
<rect x="757.5" y="519.5" width="4" height="6" fill="#fff" stroke="#d4413b" stroke-width="1"/>
<rect x="766" y="521" width="1" height="38" fill="#5fa55a"/>
<rect x="764" y="525" width="5" height="22" fill="#5fa55a"/>
<rect x="773" y="536" width="1" height="26" fill="#5fa55a"/>
<rect x="771" y="547" width="5" height="15" fill="#5fa55a"/>
<rect x="780" y="560" width="1" height="32" fill="#5fa55a"/>
<rect x="778" y="562" width="5" height="19" fill="#5fa55a"/>
<rect x="787" y="557" width="1" height="9" fill="#d4413b"/>
<rect x="787" y="581" width="1" height="6" fill="#d4413b"/>
<rect x="785.5" y="566.5" width="4" height="14" fill="#fff" stroke="#d4413b" stroke-width="1"/>
<rect x="794" y="564" width="1" height="41" fill="#5fa55a"/>
<rect x="792" y="566" width="5" height="37" fill="#5fa55a"/>
<rect x="801" y="599" width="1" height="22" fill="#5fa55a"/>
<rect x="799" y="604" width="5" height="5" fill="#5fa55a"/>
<rect x="808" y="579" width="1" height="2" fill="#d4413b"/>
<rect x="808" y="609" width="1" height="8" fill="#d4413b"/>
<rect x="806.5" y="581.5" width="4" height="27" fill="#fff" stroke="#d4413b" stroke-width="1"/>
<rect x="815" y="567" width="1" height="6" fill="#d4413b"/>
<rect x="815" y="581" width="1" height="6" fill="#d4413b"/>
<rect x="813.5" y="573.5" width="4" height="7" fill="#fff" stroke="#d4413b" stroke-width="1"/>
</g>
<path d="M91 572.5 H1037" stroke="#1e90ff" stroke-width="1" stroke-dasharray="3 3" fill="none"/>
<path d="M94.5 360.4 L114.0 357.0 L143.0 352.6 L163.0 350.0 L200.0 348.3 L229.0 346.0 L258.0 343.7 L287.0 341.4 L316.0 340.2 L345.0 337.9 L374.0 335.6 L385.0 335.2 L405.0 336.2 L448.0 337.2 L470.0 338.2 L490.0 339.2 L518.0 340.2 L530.0 340.4 L550.0 342.4 L570.0 344.4 L590.0 347.2 L610.0 350.8 L630.0 353.8 L650.0 357.4 L670.0 360.7 L690.0 363.3 L700.0 364.9 L720.0 367.3 L740.0 368.5 L760.0 369.9 L780.0 371.9 L800.0 373.5 L815.0 374.5" fill="none" stroke="#ff00ff" stroke-width="1" stroke-linejoin="round" shape-rendering="crispEdges"/>
<path d="M94.0 270.7 L103.0 265.4 L114.0 259.4 L128.3 249.8 L145.0 237.7 L157.0 229.8 L167.0 225.0 L178.0 221.6 L188.5 219.7 L205.0 217.8 L229.0 214.4 L253.0 209.4 L277.5 204.1 L301.5 199.2 L315.0 197.6 L325.6 196.9 L337.0 197.2 L349.0 198.2 L365.0 202.2 L378.0 202.6 L383.0 203.6 L390.0 206.9 L400.0 210.3 L410.0 216.5 L420.0 221.9 L430.0 229.5 L440.0 236.5 L450.0 243.4 L460.0 250.2 L470.0 255.8 L480.0 262.8 L490.0 269.8 L500.0 275.4 L510.0 282.1 L520.0 286.7 L530.0 292.5 L540.0 299.6 L550.0 305.9 L560.0 310.9 L570.0 317.9 L580.0 327.8 L590.0 338.4 L600.0 348.8 L610.0 359.8 L620.0 372.1 L630.0 384.1 L640.0 394.7 L650.0 405.6 L660.0 416.0 L670.0 426.6 L680.0 432.7 L690.0 439.7 L700.0 449.8 L710.0 457.7 L720.0 466.7 L726.0 472.1 L740.0 479.8 L760.0 488.4 L770.0 492.8 L780.0 498.6 L790.0 503.0 L800.0 508.9 L815.0 516.3" fill="none" stroke="#000" stroke-width="1" stroke-linejoin="round" shape-rendering="crispEdges"/>
<path d="M133.5 105.5 H141 M136.5 103 V108" stroke="#000" stroke-width="1" fill="none" shape-rendering="crispEdges"/>
<path d="M623.5 655.5 H631 M626.5 653 V657" stroke="#000" stroke-width="1" fill="none" shape-rendering="crispEdges"/>
<text x="141.6" y="101.9" font-family="'Liberation Sans', sans-serif" font-size="12.2" fill="#d9434b" font-weight="bold" textLength="49.6" lengthAdjust="spacingAndGlyphs">110.1699</text>
<text x="631.4" y="666.9" font-family="'Liberation Sans', sans-serif" font-size="12.2" fill="#5a9e55" font-weight="bold" textLength="44" lengthAdjust="spacingAndGlyphs">97.9229</text>
<g shape-rendering="crispEdges">
<rect x="27" y="702" width="4" height="1" fill="#000"/>
<rect x="26" y="703" width="1" height="1" fill="#000"/>
<rect x="31" y="703" width="1" height="1" fill="#000"/>
<rect x="25" y="704" width="1" height="4" fill="#000"/>
<rect x="32" y="704" width="1" height="4" fill="#000"/>
<rect x="26" y="708" width="1" height="1" fill="#000"/>
<rect x="31" y="708" width="1" height="1" fill="#000"/>
<rect x="27" y="709" width="4" height="1" fill="#000"/>
<rect x="28" y="704" width="2" height="1" fill="#f00"/>
<rect x="27" y="705" width="4" height="2" fill="#f00"/>
<rect x="28" y="707" width="2" height="1" fill="#f00"/>
<rect x="22" y="705" width="2" height="1" fill="#f00"/>
<rect x="34" y="705" width="2" height="1" fill="#f00"/>
<rect x="28" y="699" width="1" height="2" fill="#f00"/>
<rect x="28" y="711" width="1" height="2" fill="#f00"/>
<rect x="23" y="700" width="1" height="1" fill="#f00"/>
<rect x="24" y="701" width="1" height="1" fill="#f00"/>
<rect x="34" y="700" width="1" height="1" fill="#f00"/>
<rect x="33" y="701" width="1" height="1" fill="#f00"/>
<rect x="24" y="710" width="1" height="1" fill="#f00"/>
<rect x="23" y="711" width="1" height="1" fill="#f00"/>
<rect x="33" y="710" width="1" height="1" fill="#f00"/>
<rect x="34" y="711" width="1" height="1" fill="#f00"/>
</g>
<text x="92.6" y="713" font-family="'Liberation Sans', sans-serif" font-size="12.2" fill="#111" textLength="78" lengthAdjust="spacingAndGlyphs">MACD(13,8,9)</text>
<text x="176.8" y="713" font-family="'Liberation Sans', sans-serif" font-size="12.2" fill="#111" textLength="68.8" lengthAdjust="spacingAndGlyphs">DIFF:-0.1485</text>
<text x="254.8" y="713" font-family="'Liberation Sans', sans-serif" font-size="12.2" fill="#000080" textLength="68.8" lengthAdjust="spacingAndGlyphs">DEA:-0.0819</text>
<text x="332.6" y="713" font-family="'Liberation Sans', sans-serif" font-size="12.2" fill="#ff00ff" textLength="82" lengthAdjust="spacingAndGlyphs">MACD:-0.1333</text>
<g shape-rendering="crispEdges">
<rect x="94" y="791" width="1" height="10" fill="#d4413b"/>
<rect x="101" y="800" width="1" height="9" fill="#5fa55a"/>
<rect x="108" y="800" width="1" height="10" fill="#5fa55a"/>
<rect x="115" y="800" width="1" height="7" fill="#5fa55a"/>
<rect x="122" y="800" width="1" height="2" fill="#5fa55a"/>
<rect x="129" y="792" width="1" height="9" fill="#d4413b"/>
<rect x="136" y="791" width="1" height="10" fill="#d4413b"/>
<rect x="143" y="800" width="1" height="2" fill="#5fa55a"/>
<rect x="150" y="800" width="1" height="10" fill="#5fa55a"/>
<rect x="157" y="800" width="1" height="19" fill="#5fa55a"/>
<rect x="164" y="800" width="1" height="15" fill="#5fa55a"/>
<rect x="171" y="800" width="1" height="39" fill="#5fa55a"/>
<rect x="178" y="800" width="1" height="52" fill="#5fa55a"/>
<rect x="185" y="800" width="1" height="50" fill="#5fa55a"/>
<rect x="192" y="800" width="1" height="47" fill="#5fa55a"/>
<rect x="199" y="800" width="1" height="55" fill="#5fa55a"/>
<rect x="206" y="800" width="1" height="57" fill="#5fa55a"/>
<rect x="213" y="800" width="1" height="42" fill="#5fa55a"/>
<rect x="220" y="800" width="1" height="29" fill="#5fa55a"/>
<rect x="227" y="800" width="1" height="15" fill="#5fa55a"/>
<rect x="234" y="797" width="1" height="4" fill="#d4413b"/>
<rect x="241" y="790" width="1" height="11" fill="#d4413b"/>
<rect x="248" y="795" width="1" height="6" fill="#d4413b"/>
<rect x="255" y="800" width="1" height="5" fill="#5fa55a"/>
<rect x="262" y="800" width="1" height="8" fill="#5fa55a"/>
<rect x="269" y="799" width="1" height="2" fill="#d4413b"/>
<rect x="276" y="791" width="1" height="10" fill="#d4413b"/>
<rect x="283" y="794" width="1" height="7" fill="#d4413b"/>
<rect x="290" y="794" width="1" height="7" fill="#d4413b"/>
<rect x="297" y="800" width="1" height="13" fill="#5fa55a"/>
<rect x="304" y="800" width="1" height="27" fill="#5fa55a"/>
<rect x="311" y="800" width="1" height="32" fill="#5fa55a"/>
<rect x="318" y="800" width="1" height="25" fill="#5fa55a"/>
<rect x="325" y="800" width="1" height="15" fill="#5fa55a"/>
<rect x="332" y="800" width="1" height="24" fill="#5fa55a"/>
<rect x="339" y="800" width="1" height="20" fill="#5fa55a"/>
<rect x="346" y="800" width="1" height="14" fill="#5fa55a"/>
<rect x="353" y="800" width="1" height="15" fill="#5fa55a"/>
<rect x="360" y="800" width="1" height="9" fill="#5fa55a"/>
<rect x="367" y="787" width="1" height="14" fill="#d4413b"/>
<rect x="374" y="771" width="1" height="30" fill="#d4413b"/>
<rect x="381" y="783" width="1" height="18" fill="#d4413b"/>
<rect x="388" y="800" width="1" height="10" fill="#5fa55a"/>
<rect x="395" y="800" width="1" height="45" fill="#5fa55a"/>
<rect x="402" y="800" width="1" height="61" fill="#5fa55a"/>
<rect x="409" y="800" width="1" height="68" fill="#5fa55a"/>
<rect x="416" y="800" width="1" height="63" fill="#5fa55a"/>
<rect x="423" y="800" width="1" height="61" fill="#5fa55a"/>
<rect x="430" y="800" width="1" height="48" fill="#5fa55a"/>
<rect x="437" y="800" width="1" height="29" fill="#5fa55a"/>
<rect x="444" y="800" width="1" height="15" fill="#5fa55a"/>
<rect x="451" y="800" width="1" height="8" fill="#5fa55a"/>
<rect x="458" y="800" width="1" height="4" fill="#5fa55a"/>
<rect x="465" y="792" width="1" height="9" fill="#d4413b"/>
<rect x="472" y="777" width="1" height="24" fill="#d4413b"/>
<rect x="479" y="761" width="1" height="40" fill="#d4413b"/>
<rect x="486" y="749" width="1" height="52" fill="#d4413b"/>
<rect x="493" y="747" width="1" height="54" fill="#d4413b"/>
<rect x="500" y="741" width="1" height="60" fill="#d4413b"/>
<rect x="507" y="747" width="1" height="54" fill="#d4413b"/>
<rect x="514" y="758" width="1" height="43" fill="#d4413b"/>
<rect x="521" y="763" width="1" height="38" fill="#d4413b"/>
<rect x="528" y="767" width="1" height="34" fill="#d4413b"/>
<rect x="535" y="780" width="1" height="21" fill="#d4413b"/>
<rect x="542" y="800" width="1" height="24" fill="#5fa55a"/>
<rect x="549" y="800" width="1" height="25" fill="#5fa55a"/>
<rect x="556" y="800" width="1" height="11" fill="#5fa55a"/>
<rect x="563" y="800" width="1" height="11" fill="#5fa55a"/>
<rect x="570" y="800" width="1" height="9" fill="#5fa55a"/>
<rect x="577" y="800" width="1" height="44" fill="#5fa55a"/>
<rect x="584" y="800" width="1" height="79" fill="#5fa55a"/>
<rect x="591" y="800" width="1" height="90" fill="#5fa55a"/>
<rect x="598" y="800" width="1" height="76" fill="#5fa55a"/>
<rect x="605" y="800" width="1" height="76" fill="#5fa55a"/>
<rect x="612" y="800" width="1" height="62" fill="#5fa55a"/>
<rect x="619" y="800" width="1" height="48" fill="#5fa55a"/>
<rect x="626" y="800" width="1" height="49" fill="#5fa55a"/>
<rect x="633" y="800" width="1" height="29" fill="#5fa55a"/>
<rect x="640" y="791" width="1" height="10" fill="#d4413b"/>
<rect x="647" y="780" width="1" height="21" fill="#d4413b"/>
<rect x="654" y="765" width="1" height="36" fill="#d4413b"/>
<rect x="661" y="769" width="1" height="32" fill="#d4413b"/>
<rect x="668" y="763" width="1" height="38" fill="#d4413b"/>
<rect x="675" y="752" width="1" height="49" fill="#d4413b"/>
<rect x="682" y="736" width="1" height="65" fill="#d4413b"/>
<rect x="689" y="733" width="1" height="68" fill="#d4413b"/>
<rect x="696" y="739" width="1" height="62" fill="#d4413b"/>
<rect x="703" y="756" width="1" height="45" fill="#d4413b"/>
<rect x="710" y="754" width="1" height="47" fill="#d4413b"/>
<rect x="717" y="741" width="1" height="60" fill="#d4413b"/>
<rect x="724" y="742" width="1" height="59" fill="#d4413b"/>
<rect x="731" y="722" width="1" height="79" fill="#d4413b"/>
<rect x="738" y="731" width="1" height="70" fill="#d4413b"/>
<rect x="745" y="741" width="1" height="60" fill="#d4413b"/>
<rect x="752" y="757" width="1" height="44" fill="#d4413b"/>
<rect x="759" y="767" width="1" height="34" fill="#d4413b"/>
<rect x="766" y="787" width="1" height="14" fill="#d4413b"/>
<rect x="773" y="800" width="1" height="8" fill="#5fa55a"/>
<rect x="780" y="800" width="1" height="26" fill="#5fa55a"/>
<rect x="787" y="800" width="1" height="28" fill="#5fa55a"/>
<rect x="794" y="800" width="1" height="42" fill="#5fa55a"/>
<rect x="801" y="800" width="1" height="49" fill="#5fa55a"/>
<rect x="808" y="800" width="1" height="36" fill="#5fa55a"/>
<rect x="815" y="800" width="1" height="22" fill="#5fa55a"/>
</g>
<path d="M94.5 761.3 L101.5 762.3 L108.5 763.5 L115.5 764.3 L122.5 764.3 L129.5 762.9 L136.5 761.9 L143.5 762.3 L150.5 763.5 L157.5 765.5 L164.5 767.3 L171.5 771.9 L178.5 778.3 L185.5 783.9 L192.5 789.5 L199.5 795.8 L206.5 802.4 L213.5 808.2 L220.5 811.8 L227.5 814.4 L234.5 812.8 L241.5 812.2 L248.5 811.4 L255.5 811.8 L262.5 812.4 L269.5 812.2 L276.5 811.4 L283.5 810.4 L290.5 810.2 L297.5 811.4 L304.5 814.8 L311.5 818.2 L318.5 821.8 L325.5 823.4 L332.5 826.4 L339.5 828.4 L346.5 830.1 L353.5 831.3 L360.5 832.3 L367.5 831.1 L374.5 827.4 L381.5 825.4 L388.5 827.4 L395.5 831.7 L402.5 840.1 L409.5 848.7 L416.5 856.3 L423.5 863.3 L430.5 868.1 L437.5 871.2 L444.5 873.0 L451.5 874.0 L458.5 874.0 L465.5 873.2 L472.5 870.2 L479.5 864.7 L486.5 858.3 L493.5 851.3 L500.5 843.7 L507.5 837.3 L514.5 832.7 L521.5 828.2 L528.5 824.8 L535.5 821.4 L542.5 824.8 L549.5 827.4 L556.5 828.4 L563.5 829.2 L570.5 830.3 L577.5 835.7 L584.5 846.1 L591.5 858.7 L598.5 867.7 L605.5 875.2 L612.5 882.0 L619.5 887.6 L626.5 893.6 L633.5 898.2 L640.5 897.2 L647.5 894.0 L654.5 890.2 L661.5 886.6 L668.5 882.0 L675.5 876.6 L682.5 868.7 L689.5 859.0 L696.5 851.6 L703.5 845.3 L710.5 839.7 L717.5 832.7 L724.5 825.7 L731.5 815.7 L738.5 806.4 L745.5 799.2 L752.5 793.8 L759.5 789.4 L766.5 788.2 L773.5 789.8 L780.5 792.8 L787.5 796.2 L794.5 801.4 L801.5 806.2 L808.5 809.8 L815.5 813.7" fill="none" stroke="#0000a0" stroke-width="1" stroke-linejoin="round" shape-rendering="crispEdges"/>
<path d="M94.5 756.5 L101.5 765.9 L108.5 768.3 L115.5 766.3 L122.5 764.3 L129.5 758.9 L136.5 757.3 L143.5 761.9 L150.5 767.9 L157.5 774.3 L164.5 774.3 L171.5 788.9 L178.5 802.8 L185.5 808.8 L192.5 812.2 L199.5 821.8 L206.5 830.7 L213.5 829.2 L220.5 826.2 L227.5 819.8 L234.5 811.4 L241.5 807.2 L248.5 808.2 L255.5 814.4 L262.5 816.4 L269.5 812.2 L276.5 806.2 L283.5 807.2 L290.5 807.4 L297.5 817.2 L304.5 827.4 L311.5 834.3 L318.5 833.3 L325.5 830.3 L332.5 837.1 L339.5 837.3 L346.5 836.3 L353.5 838.3 L360.5 836.7 L367.5 824.2 L374.5 812.2 L381.5 816.2 L388.5 830.0 L395.5 853.7 L402.5 869.7 L409.5 880.0 L416.5 885.6 L423.5 892.6 L430.5 891.2 L437.5 885.6 L444.5 880.6 L451.5 877.6 L458.5 875.6 L465.5 868.7 L472.5 857.7 L479.5 844.7 L486.5 832.7 L493.5 823.8 L500.5 814.8 L507.5 811.2 L514.5 810.8 L521.5 809.2 L528.5 807.4 L535.5 811.2 L542.5 835.7 L549.5 839.1 L556.5 833.3 L563.5 834.1 L570.5 834.3 L577.5 856.7 L584.5 883.6 L591.5 900.6 L598.5 903.6 L605.5 911.5 L612.5 913.1 L619.5 912.1 L626.5 917.5 L633.5 911.5 L640.5 889.6 L647.5 882.6 L654.5 872.0 L661.5 870.6 L668.5 863.7 L675.5 851.7 L682.5 835.1 L689.5 825.0 L696.5 820.0 L703.5 823.3 L710.5 815.7 L717.5 802.8 L724.5 796.2 L731.5 774.8 L738.5 771.4 L745.5 769.9 L752.5 772.2 L759.5 772.4 L766.5 781.4 L773.5 792.8 L780.5 805.4 L787.5 807.8 L794.5 819.7 L801.5 830.3 L808.5 827.1 L815.5 824.1" fill="none" stroke="#000" stroke-width="1" stroke-linejoin="round" shape-rendering="crispEdges"/>
<rect x="20" y="918" width="70" height="1" fill="#c5ced9"/>
<rect x="90" y="918" width="949" height="1" fill="#e6ebf1"/>
<rect x="90" y="935" width="723" height="1" fill="#e3e9f0"/>
<rect x="20" y="937" width="70" height="1" fill="#c8d0da"/>
<rect x="89" y="919" width="1" height="18" fill="#c5ced9"/>
<rect x="20" y="938" width="1019" height="1" fill="#d3dae3"/>
<rect x="241" y="919" width="1" height="5" fill="#c3ccd8"/>
<text x="243.2" y="930.8" font-family="'Liberation Sans', sans-serif" font-size="12.2" fill="#1c1c30" font-weight="bold" textLength="44.6" lengthAdjust="spacingAndGlyphs">2025/02</text>
<rect x="381" y="919" width="1" height="5" fill="#c3ccd8"/>
<text x="383.2" y="930.8" font-family="'Liberation Sans', sans-serif" font-size="12.2" fill="#1c1c30" font-weight="bold" textLength="44.6" lengthAdjust="spacingAndGlyphs">2025/03</text>
<rect x="528" y="919" width="1" height="5" fill="#c3ccd8"/>
<text x="530.2" y="930.8" font-family="'Liberation Sans', sans-serif" font-size="12.2" fill="#1c1c30" font-weight="bold" textLength="44.6" lengthAdjust="spacingAndGlyphs">2025/04</text>
<rect x="682" y="919" width="1" height="5" fill="#c3ccd8"/>
<text x="684.2" y="930.8" font-family="'Liberation Sans', sans-serif" font-size="12.2" fill="#1c1c30" font-weight="bold" textLength="44.6" lengthAdjust="spacingAndGlyphs">2025/05</text>
<text x="34" y="934" font-family="'Liberation Sans', 'Noto Sans CJK SC', sans-serif" font-size="12.5" font-weight="bold" fill="#ff7a00">日线</text>
<path d="M64.3 932.9 L68.9 924.8 L73.5 932.9 Z" fill="#ff7a00"/>
<rect x="20" y="938" width="39" height="14" fill="#ff6a00"/>
<rect x="20" y="918" width="1" height="20" fill="#c9d2dd"/>
<rect x="59" y="939" width="1" height="13" fill="#b5bdc9"/>
<rect x="99" y="939" width="1" height="13" fill="#b5bdc9"/>
<rect x="157" y="939" width="1" height="13" fill="#b5bdc9"/>
<rect x="185" y="939" width="1" height="13" fill="#b5bdc9"/>
<rect x="225" y="939" width="1" height="13" fill="#b5bdc9"/>
<rect x="265" y="939" width="1" height="13" fill="#b5bdc9"/>
<rect x="299" y="939" width="1" height="13" fill="#b5bdc9"/>
<rect x="339" y="939" width="1" height="13" fill="#b5bdc9"/>
<rect x="373" y="939" width="1" height="13" fill="#b5bdc9"/>
<rect x="407" y="939" width="1" height="13" fill="#b5bdc9"/>
<rect x="447" y="939" width="1" height="13" fill="#b5bdc9"/>
<rect x="481" y="939" width="1" height="13" fill="#b5bdc9"/>
<rect x="509" y="939" width="1" height="13" fill="#b5bdc9"/>
<rect x="543" y="939" width="1" height="13" fill="#b5bdc9"/>
<rect x="583" y="939" width="1" height="13" fill="#b5bdc9"/>
<text x="27.7" y="950.6" font-family="'Liberation Sans', 'Noto Sans CJK SC', sans-serif" font-size="12" fill="#fff">指标</text>
<text x="68" y="950.5" font-family="'Liberation Sans', 'Noto Sans CJK SC', sans-serif" font-size="12" fill="#1e2630">模板</text>
<text x="108.2" y="950" font-family="'Liberation Mono', sans-serif" font-size="11.8" fill="#ff7a00" textLength="18" lengthAdjust="spacingAndGlyphs">VIP</text>
<text x="126.7" y="950.5" font-family="'Liberation Sans', 'Noto Sans CJK SC', sans-serif" font-size="11.7" fill="#ff7a00">指标</text>
<text x="166.2" y="950" font-family="'Liberation Mono', sans-serif" font-size="11.8" fill="#1e2630" textLength="11.6" lengthAdjust="spacingAndGlyphs">MA</text>
<text x="194" y="950" font-family="'Liberation Mono', sans-serif" font-size="11.8" fill="#1e2630" textLength="23" lengthAdjust="spacingAndGlyphs">MACD</text>
<text x="234" y="950" font-family="'Liberation Mono', sans-serif" font-size="11.8" fill="#1e2630" textLength="23" lengthAdjust="spacingAndGlyphs">BOLL</text>
<text x="273.6" y="950" font-family="'Liberation Mono', sans-serif" font-size="11.8" fill="#1e2630" textLength="17" lengthAdjust="spacingAndGlyphs">VOL</text>
<text x="307.6" y="950" font-family="'Liberation Mono', sans-serif" font-size="11.8" fill="#1e2630" textLength="23" lengthAdjust="spacingAndGlyphs">BIAS</text>
<text x="347.6" y="950" font-family="'Liberation Mono', sans-serif" font-size="11.8" fill="#1e2630" textLength="17" lengthAdjust="spacingAndGlyphs">CCI</text>
<text x="382.4" y="950" font-family="'Liberation Mono', sans-serif" font-size="11.8" fill="#1e2630" textLength="17" lengthAdjust="spacingAndGlyphs">KDJ</text>
<text x="416.4" y="950" font-family="'Liberation Mono', sans-serif" font-size="11.8" fill="#1e2630" textLength="17.4" lengthAdjust="spacingAndGlyphs">LW&amp;</text>
<text x="453.6" y="950" font-family="'Liberation Mono', sans-serif" font-size="11.8" fill="#1e2630" textLength="17.6" lengthAdjust="spacingAndGlyphs">RSI</text>
<text x="488.8" y="950" font-family="'Liberation Mono', sans-serif" font-size="11.8" fill="#1e2630" textLength="11.6" lengthAdjust="spacingAndGlyphs">CR</text>
<text x="517.4" y="950" font-family="'Liberation Mono', sans-serif" font-size="11.8" fill="#1e2630" textLength="17" lengthAdjust="spacingAndGlyphs">PSY</text>
<text x="551.7" y="950.5" font-family="'Liberation Sans', 'Noto Sans CJK SC', sans-serif" font-size="11.7" fill="#1e2630">设置</text>
<text x="908.8" y="925.9" font-family="'Liberation Sans', sans-serif" font-size="30.4" letter-spacing="2.2" fill="#c9b9a8" opacity="0.8" transform="translate(1.2 1.2)">FX678</text>
<text x="908.8" y="925.9" font-family="'Liberation Sans', sans-serif" font-size="30.4" letter-spacing="2.2" fill="#d6e4f5">FX678</text>
</svg>
</body></html>
